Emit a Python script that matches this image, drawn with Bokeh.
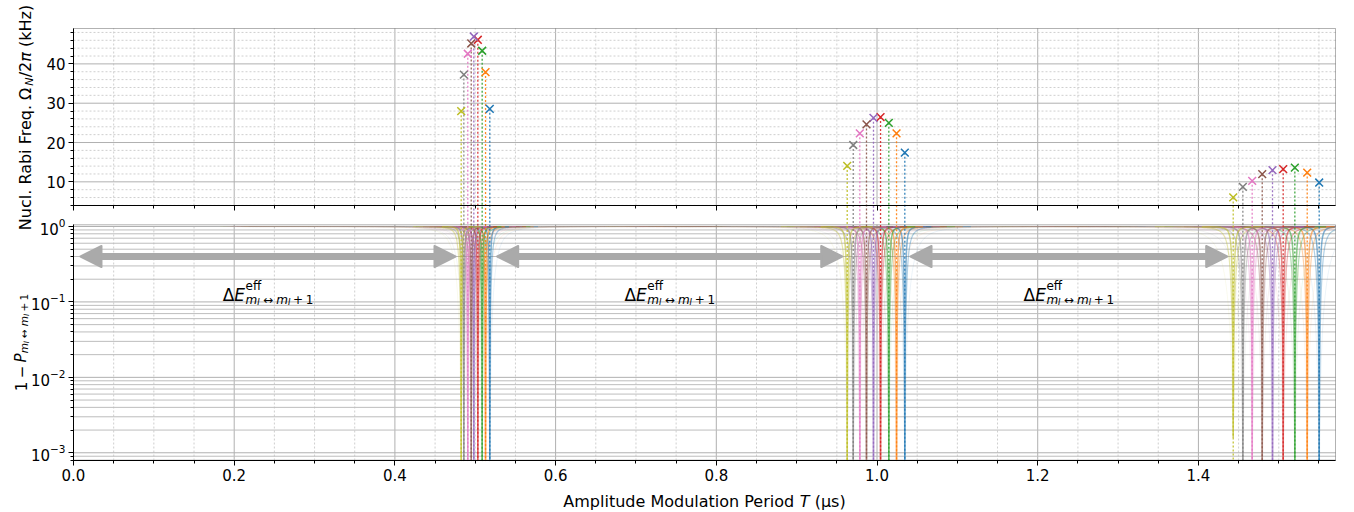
import numpy as np
from bokeh.plotting import figure
from bokeh.models import (Range1d, LogScale, LinearAxis, LogAxis, SingleIntervalTicker,
                          LogTicker, PrintfTickFormatter, Label, Arrow, NormalHead, BoxAnnotation,
                          ColumnDataSource)
from bokeh.embed import file_html
from bokeh.resources import INLINE

FONT = "DejaVu Sans"

# ---------------- data ----------------
series_colors = ["#1f77b4", "#ff7f0e", "#2ca02c", "#d62728", "#9467bd",
                 "#8c564b", "#e377c2", "#7f7f7f", "#bcbd22"]

# resonance periods T (us) and nuclear Rabi frequencies (kHz), per series C0..C8
clusterA_period = [0.5181, 0.5128, 0.5086, 0.5032, 0.4982, 0.4950, 0.4907, 0.4858, 0.4825]
clusterA_rabi = [28.56, 37.92, 43.34, 46.13, 46.96, 45.19, 42.58, 37.27, 27.97]
clusterB_period = [1.0346, 1.0243, 1.0147, 1.0044, 0.9956, 0.9869, 0.9786, 0.9704, 0.9629]
clusterB_rabi = [17.42, 22.33, 25.01, 26.46, 26.28, 24.61, 22.33, 19.37, 14.05]
clusterC_period = [1.5503, 1.5354, 1.5200, 1.5055, 1.4922, 1.4794, 1.4669, 1.4553, 1.4433]
clusterC_rabi = [9.82, 12.35, 13.62, 13.22, 12.96, 11.95, 10.25, 8.73, 6.03]

# dip widths (us) of the 1-P curves per cluster: core, fan, broad wing
dip_core_width = [0.0016, 0.0022, 0.0026]
dip_fan_width = [0.0040, 0.0055, 0.0065]
dip_broad_width = [0.012, 0.016, 0.020]
clusterC_floor = [0, 0, 0, 0, 0, 0, 0, 0, 1.6e-3]

arrow_start = [0.0087, 0.5273, 1.0417]
arrow_end = [0.4754, 0.9567, 1.4358]
arrow_level = 0.40
label_level = 0.125

top_y_major = [10, 20, 30, 40]
x_tick_step, x_minor_step = 0.2, 0.05

# ---------------- layout (page pixels) ----------------
W, H = 1354, 512
PX_L, PX_R = 73, 1335          # panel left / right
PY_TT, PY_TB = 28, 205         # top panel top / bottom
PY_BT, PY_BB = 224.3, 460      # bottom panel top / bottom
X_MAX = 1.5706
TOP_Y = (3.98, 49.0)
BOT_Y = (7.9e-4, 1.053)

PX_PER_X = (PX_R - PX_L) / X_MAX
ppu = (PY_TB - PY_TT) / (TOP_Y[1] - TOP_Y[0])
dpp = (np.log10(BOT_Y[1]) - np.log10(BOT_Y[0])) / (PY_BB - PY_BT)
x_rng = Range1d(-PX_L / PX_PER_X, (W - PX_L) / PX_PER_X)
lin_rng = Range1d(TOP_Y[1] - (H - PY_TT) / ppu, TOP_Y[1] + PY_TT / ppu)
log_rng = Range1d(10 ** (np.log10(BOT_Y[0]) - (H - PY_BB) * dpp),
                  10 ** (np.log10(BOT_Y[1]) + PY_BT * dpp))
lin_at_bottom = TOP_Y[1] - (PY_BB - PY_TT) / ppu   # linear-y value of the lower panel's bottom

MAJOR_C = "#b0b0b0"
MINOR_C = "#cfcfcf"
LOGMINOR_C = "#bdbdbd"
ARROW_C = "#aaaaaa"

p = figure(width=W, height=H, x_range=x_rng, y_range=lin_rng,
           x_axis_type=None, y_axis_type=None, output_backend="svg", toolbar_location=None,
           min_border_left=0, min_border_right=0, min_border_top=0, min_border_bottom=0)
p.outline_line_color = None
p.extra_y_ranges = {"log": log_rng}
p.extra_y_scales = {"log": LogScale()}

# ---------------- grids (drawn only inside the two panels) ----------------
x_major = [round(v, 3) for v in np.arange(0, X_MAX, x_tick_step)]
x_minor = [round(v, 3) for v in np.arange(0, X_MAX, x_minor_step)
           if abs(v / x_tick_step - round(v / x_tick_step)) > 1e-6]
for (y0, y1, rn) in [(TOP_Y[0], TOP_Y[1], "default"), (BOT_Y[0], BOT_Y[1], "log")]:
    p.segment(x0=x_minor, x1=x_minor, y0=y0, y1=y1, y_range_name=rn, line_color=MINOR_C,
              line_dash="2 2", line_width=1, level="underlay")
    p.segment(x0=x_major, x1=x_major, y0=y0, y1=y1, y_range_name=rn, line_color=MAJOR_C,
              line_width=1, level="underlay")

top_minor = [v for v in np.arange(4, 49, 2) if v % 10 != 0]
p.segment(x0=0, x1=X_MAX, y0=top_minor, y1=top_minor, line_color=MINOR_C, line_dash="2 2",
          line_width=1, level="underlay")
p.segment(x0=0, x1=X_MAX, y0=top_y_major, y1=top_y_major, line_color=MAJOR_C, line_width=1,
          level="underlay")

log_major = [1e-3, 1e-2, 1e-1, 1e0]
log_minor = [k * 10.0 ** e for e in range(-4, 0) for k in range(2, 10)
             if BOT_Y[0] <= k * 10.0 ** e <= BOT_Y[1]]
p.segment(x0=0, x1=X_MAX, y0=log_minor, y1=log_minor, y_range_name="log",
          line_color=LOGMINOR_C, line_width=1, level="underlay")
p.segment(x0=0, x1=X_MAX, y0=log_major, y1=log_major, y_range_name="log",
          line_color=MAJOR_C, line_width=1, level="underlay")

# ---------------- axes (fixed inside the canvas-wide frame) ----------------
def style_axis(ax):
    ax.axis_line_color = "black"
    ax.axis_line_width = 1
    ax.major_tick_line_color = "black"
    ax.major_tick_out = 5
    ax.major_tick_in = 0
    ax.minor_tick_line_color = "black"
    ax.minor_tick_out = 3
    ax.minor_tick_in = 0
    ax.major_label_text_font = FONT
    ax.major_label_text_font_size = "15px"
    ax.major_label_text_color = "black"
    ax.major_label_standoff = 3

xax = LinearAxis(ticker=SingleIntervalTicker(interval=x_tick_step, num_minor_ticks=4),
                 formatter=PrintfTickFormatter(format="%.1f"),
                 fixed_location=lin_at_bottom, bounds=(0, X_MAX))
style_axis(xax)
p.add_layout(xax, "below")

xax_top = LinearAxis(ticker=SingleIntervalTicker(interval=x_tick_step, num_minor_ticks=4),
                     fixed_location=TOP_Y[0], bounds=(0, X_MAX))
style_axis(xax_top)
xax_top.major_label_text_alpha = 0
xax_top.major_label_text_font_size = "0px"
p.add_layout(xax_top, "below")

yax_top = LinearAxis(ticker=SingleIntervalTicker(interval=10, num_minor_ticks=5),
                     bounds=TOP_Y, fixed_location=0)
style_axis(yax_top)
p.add_layout(yax_top, "left")

yax_bot = LogAxis(y_range_name="log", ticker=LogTicker(num_minor_ticks=10), bounds=BOT_Y,
                  fixed_location=0)
style_axis(yax_bot)
p.add_layout(yax_bot, "left")

# panel boxes
p.add_layout(BoxAnnotation(left=0, right=X_MAX, bottom=TOP_Y[0], top=TOP_Y[1], fill_color=None,
                           line_color="black", line_width=1))
p.add_layout(BoxAnnotation(left=0, right=X_MAX, bottom=BOT_Y[0], top=BOT_Y[1], fill_color=None,
                           line_color="black", line_width=1, y_range_name="log"))

# ---------------- bottom panel: 1-P dips ----------------
def dip(xc, w, floor, reach):
    d = w * np.logspace(-3.5, np.log10(reach / w), 240)
    xs = np.concatenate([xc - d[::-1], xc + d])
    keep = (xs >= 0) & (xs <= X_MAX)
    xs = xs[keep]
    dd = xs - xc
    ys = (dd ** 2 + floor * w ** 2) / (dd ** 2 + w ** 2)
    ys = np.maximum(ys, BOT_Y[0])      # stop at the lower panel's bottom edge
    return xs.tolist(), ys.tolist()

clusters = [(clusterA_period, clusterA_rabi, [0] * 9),
            (clusterB_period, clusterB_rabi, [0] * 9),
            (clusterC_period, clusterC_rabi, clusterC_floor)]

layers = [(dip_broad_width, 0.08, 1.0, None), (dip_fan_width, 0.35, 1.2, 15),
          (dip_core_width, 0.55, 1.5, 15)]
for widths, alpha, lw, reach_mult in layers:
    xs_all, ys_all, cs = [], [], []
    for ci, (per, rabi, floors) in enumerate(clusters):
        w = widths[ci]
        reach = 0.3 if reach_mult is None else reach_mult * w
        for si, xc in enumerate(per):
            xs, ys = dip(xc, w, floors[si], reach)
            xs_all.append(xs)
            ys_all.append(ys)
            cs.append(series_colors[si])
    src = ColumnDataSource(dict(xs=xs_all, ys=ys_all, c=cs))
    p.multi_line(xs="xs", ys="ys", line_color="c", line_alpha=alpha, line_width=lw,
                 source=src, y_range_name="log")

# ---------------- dotted drop lines + markers ----------------
for per, rabi, _ in clusters:
    p.segment(x0=per, x1=per, y0=rabi, y1=lin_at_bottom, line_color=series_colors,
              line_dash="2 2", line_width=1.3, line_alpha=0.9)
for per, rabi, _ in clusters:
    p.scatter(x=per, y=rabi, marker="x", size=11, line_width=1.5, line_color=series_colors)

# ---------------- arrows ----------------
for a, b in zip(arrow_start, arrow_end):
    p.add_layout(Arrow(x_start=a, x_end=b, y_start=arrow_level, y_end=arrow_level,
                       y_range_name="log", line_color=ARROW_C, line_width=7,
                       start=NormalHead(size=21, fill_color=ARROW_C, line_color=ARROW_C,
                                        line_width=2, line_join="round"),
                       end=NormalHead(size=21, fill_color=ARROW_C, line_color=ARROW_C,
                                      line_width=2, line_join="round")))

# ---------------- composite texts ----------------
CW = {' ': 651, '(': 799, ')': 799, '+': 1716, '.': 651, '/': 690, 'A': 1401, 'E': 1294,
      'F': 1178, 'H': 1540, 'I': 604, 'M': 1767, 'N': 1532, 'P': 1235, 'R': 1423, 'T': 1251,
      'a': 1255, 'b': 1300, 'c': 1126, 'd': 1300, 'e': 1260, 'f': 721, 'i': 569, 'k': 1186,
      'l': 569, 'm': 1995, 'n': 1298, 'o': 1253, 'p': 1300, 'q': 1300, 'r': 842, 's': 1067,
      't': 803, 'u': 1298, 'z': 1075, 'Δ': 1401, 'Ω': 1577, 'π': 1233, 'μ': 1300,
      '↔': 1716, '−': 1716}
for dgt in "0123456789":
    CW[dgt] = 1303

def text_w(s, size):
    return sum(CW.get(ch, 1270) for ch in s) / 2048.0 * size

def composite(pieces, x, y, angle=0.0, y_range_name="default", off_x=0.0, off_y=0.0):
    # leading / trailing spaces become explicit gaps (SVG trims them)
    norm = []
    for t, s, it, sh, adv, pb, pa in pieces:
        lead = len(t) - len(t.lstrip(" "))
        trail = len(t) - len(t.rstrip(" "))
        sp = text_w(" ", s)
        norm.append((t.strip(" "), s, it, sh, adv, pb + lead * sp, pa + trail * sp))
    total = 0.0
    for t, s, it, sh, adv, pb, pa in norm:
        if adv:
            total += pb + text_w(t, s) + pa
    pos = -total / 2.0
    for t, s, it, sh, adv, pb, pa in norm:
        start = pos + pb
        if angle == 0.0:
            xo, yo = off_x + start, off_y + sh
        else:
            xo, yo = off_x - sh, off_y + start
        p.add_layout(Label(x=x, y=y, x_offset=xo, y_offset=yo, text=t, angle=angle,
                           text_font=FONT, text_font_size=f"{s}px",
                           text_font_style="italic" if it else "normal",
                           text_align="left", text_baseline="alphabetic", text_color="black",
                           y_range_name=y_range_name))
        if adv:
            pos = start + text_w(t, s) + pa

# Delta E labels
dE = [("Δ", 17, False, 0, True, 0, 0), ("E", 17, True, 0, True, 0, 0.5),
      ("eff", 12, False, 9, False, 0, 0),
      ("m", 12, True, -5, True, 0, 0), ("I", 8.5, True, -7.5, True, 0, 0),
      ("↔", 12, False, -5, True, 3.2, 3.2),
      ("m", 12, True, -5, True, 0, 0), ("I", 8.5, True, -7.5, True, 0, 0),
      ("+", 12, False, -5, True, 2.6, 2.6), ("1", 12, False, -5, True, 0, 0)]
for a, b in zip(arrow_start, arrow_end):
    composite(dE, (a + b) / 2.0, label_level, y_range_name="log")

# x axis label
composite([("Amplitude Modulation Period ", 16, False, 0, True, 0, 0),
           ("T", 16, True, 0, True, 0, 0), (" (μs)", 16, False, 0, True, 0, 0)],
          X_MAX / 2.0, BOT_Y[0], y_range_name="log", off_y=-41)

# y labels (rotated)
composite([("Nucl. Rabi Freq. Ω", 16, False, 0, True, 0, 0),
           ("N", 11.2, True, -3.5, True, 0, 0),
           ("/2", 16, False, 0, True, 0, 0), ("π", 16, True, 0, True, 0, 0),
           (" (kHz)", 16, False, 0, True, 0, 0)],
          0, TOP_Y[1] - (117 - PY_TT) / ppu, angle=np.pi / 2, off_x=-48)

composite([("1", 15, False, 0, True, 0, 3.3), ("−", 15, False, 0, True, 0, 3.3),
           ("P", 15, True, 0, True, 0, 0),
           ("m", 10.5, True, -3.5, True, 0, 0), ("I", 7.5, True, -5.5, True, 0, 0),
           ("↔", 10.5, False, -3.5, True, 2.9, 2.9),
           ("m", 10.5, True, -3.5, True, 0, 0), ("I", 7.5, True, -5.5, True, 0, 0),
           ("+", 10.5, False, -3.5, True, 2.3, 2.3), ("1", 10.5, False, -3.5, True, 0, 0)],
          0, 0.029, angle=np.pi / 2, y_range_name="log", off_x=-53)

open("out.html", "w").write(file_html(p, INLINE))
